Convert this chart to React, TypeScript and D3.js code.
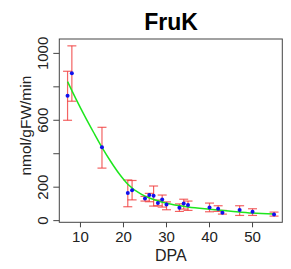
import React, { useEffect, useRef } from "react";
import * as d3 from "d3";

// DPA sample days, mean activity, error bar low / high
const dpa = [7, 8, 15, 21, 22, 25, 26, 27, 28, 29, 30, 33, 34, 35, 40, 42, 43, 47, 50, 55];
const means = [747, 881, 438, 165, 182, 133, 153, 149, 105, 127, 97, 77, 103, 93, 79, 71, 47, 63, 53, 37];
const lows = [600, 714, 314, 83, 124, 117, 113, 87, 89, 81, 65, 55, 69, 61, 53, 55, 39, 31, 31, 27];
const highs = [893, 1045, 558, 243, 240, 145, 163, 207, 123, 153, 112, 100, 128, 117, 105, 89, 61, 89, 71, 51];

// fitted curve
const fitX = [7, 9, 11, 13, 15, 17, 19, 21, 24, 27, 30, 35, 40, 45, 50, 55];
const fitY = [831, 725, 625, 530, 438, 355, 280, 218, 160, 126, 104, 82, 68, 56, 45, 39];

const xTicks = [10, 20, 30, 40, 50];
const yTicks = [0, 200, 400, 600, 800, 1000];
const yLabels = [0, 200, 600, 1000];

export default function App() {
  const ref = useRef<SVGSVGElement>(null);

  useEffect(() => {
    const svg = d3.select(ref.current);
    svg.selectAll("*").remove();

    const left = 59.3, right = 282.3, top = 39, bottom = 222.3;
    const x = d3.scaleLinear().domain([5.08, 56.92]).range([left, right]);
    const y = d3.scaleLinear().domain([-10, 1086]).range([bottom, top]);
    const font = "Liberation Sans, Arial, sans-serif";

    // title
    svg.append("text")
      .attr("x", 171)
      .attr("y", 29.5)
      .attr("text-anchor", "middle")
      .attr("font-family", font)
      .attr("font-weight", "bold")
      .attr("font-size", 23)
      .text("FruK");

    // box
    svg.append("rect")
      .attr("x", left).attr("y", top)
      .attr("width", right - left).attr("height", bottom - top)
      .attr("fill", "none").attr("stroke", "#444").attr("stroke-width", 1);

    // x axis
    const xa = svg.append("g").attr("transform", `translate(0,${bottom})`);
    xTicks.forEach(t => {
      xa.append("line").attr("x1", x(t)).attr("x2", x(t)).attr("y1", 0).attr("y2", 5).attr("stroke", "#444");
      xa.append("text").attr("x", x(t)).attr("y", 19.5).attr("text-anchor", "middle")
        .attr("font-family", font).attr("font-size", 15).attr("fill", "#222").text(t);
    });
    svg.append("text").attr("x", (left + right) / 2).attr("y", 261).attr("text-anchor", "middle")
      .attr("font-family", font).attr("font-size", 16).attr("fill", "#222").text("DPA");

    // y axis
    const ya = svg.append("g").attr("transform", `translate(${left},0)`);
    yTicks.forEach(t => {
      ya.append("line").attr("x1", -6).attr("x2", 0).attr("y1", y(t)).attr("y2", y(t)).attr("stroke", "#444");
    });
    yLabels.forEach(t => {
      ya.append("text")
        .attr("transform", `translate(-11,${y(t)}) rotate(-90)`)
        .attr("text-anchor", "middle")
        .attr("font-family", font).attr("font-size", 15).attr("fill", "#222").text(t);
    });
    svg.append("text")
      .attr("transform", `translate(30.5,${(top + bottom) / 2 - 5}) rotate(-90)`)
      .attr("text-anchor", "middle")
      .attr("font-family", font).attr("font-size", 15.5).attr("fill", "#222")
      .text("nmol/gFW/min");

    // error bars
    const eb = svg.append("g").attr("stroke", "#f03c3c").attr("stroke-opacity", 0.8).attr("stroke-width", 1.2);
    dpa.forEach((d, i) => {
      eb.append("line").attr("x1", x(d)).attr("x2", x(d)).attr("y1", y(lows[i])).attr("y2", y(highs[i]));
      eb.append("line").attr("x1", x(d) - 4.5).attr("x2", x(d) + 4.5).attr("y1", y(lows[i])).attr("y2", y(lows[i]));
      eb.append("line").attr("x1", x(d) - 4.5).attr("x2", x(d) + 4.5).attr("y1", y(highs[i])).attr("y2", y(highs[i]));
    });

    // fitted curve
    const line = d3.line<number>()
      .x((_, i) => x(fitX[i]))
      .y(v => y(v))
      .curve(d3.curveMonotoneX);
    svg.append("path").attr("d", line(fitY)).attr("fill", "none")
      .attr("stroke", "#1ee61e").attr("stroke-width", 1.5);

    // points
    svg.append("g").selectAll("circle").data(dpa).enter().append("circle")
      .attr("cx", d => x(d))
      .attr("cy", (_, i) => y(means[i]))
      .attr("r", 2)
      .attr("fill", "#1010ee");
  }, []);

  return (
    <svg ref={ref} width={291} height={269}
      style={{ position: "absolute", left: 0, top: 0, background: "#fff" }} />
  );
}
